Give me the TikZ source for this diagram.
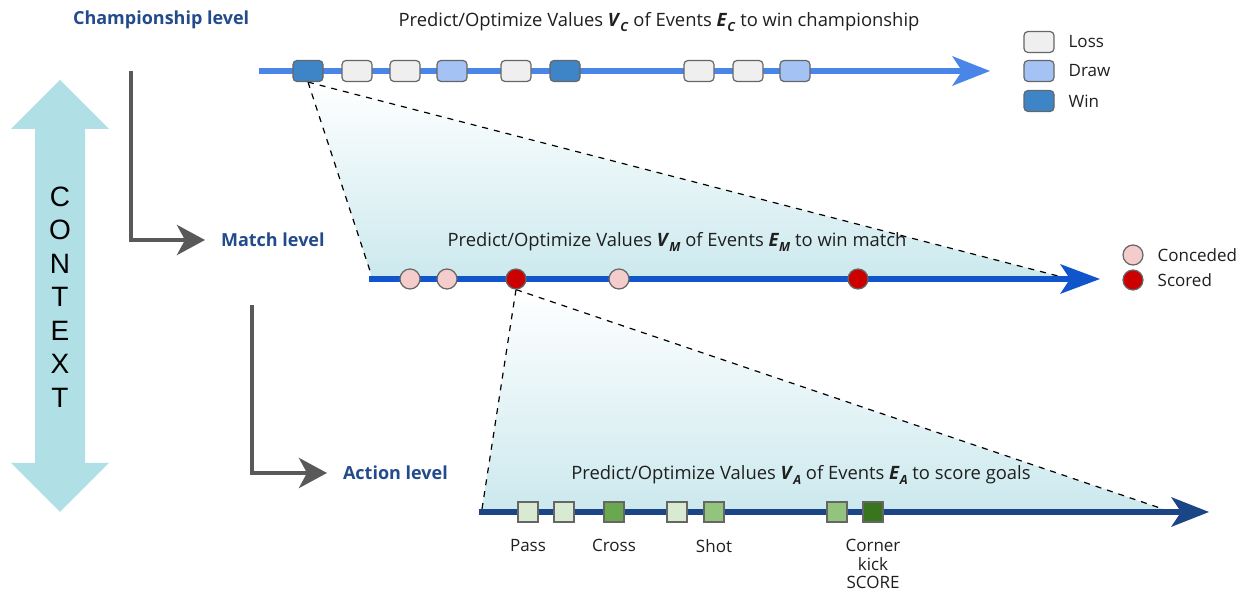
\documentclass[tikz,border=0pt]{standalone}
\usepackage{fontspec}
\setmainfont{Open Sans}
\newfontfamily\ctxfont{Liberation Sans}
\usetikzlibrary{arrows.meta,positioning,backgrounds}

\definecolor{ctxcyan}{RGB}{176,224,230}
\definecolor{lvlblue}{RGB}{35,75,140}
\definecolor{champblue}{RGB}{74,134,232}
\definecolor{matchblue}{RGB}{17,85,204}
\definecolor{actblue}{RGB}{28,69,135}
\definecolor{boxgray}{RGB}{102,102,102}
\definecolor{lossgray}{RGB}{239,239,239}
\definecolor{drawblue}{RGB}{164,194,244}
\definecolor{winblue}{RGB}{61,133,198}
\definecolor{concpink}{RGB}{244,204,204}
\definecolor{scorered}{RGB}{204,0,0}
\definecolor{greenA}{RGB}{217,234,211}
\definecolor{greenB}{RGB}{106,168,79}
\definecolor{greenC}{RGB}{147,196,125}
\definecolor{greenD}{RGB}{56,118,29}
\definecolor{arrowgray}{RGB}{89,89,89}
\definecolor{trifill}{RGB}{204,233,238}

\newcommand\vsub[2]{\textbf{\textit{#1}}\raisebox{-0.5ex}{\fontsize{6.3}{6.3}\selectfont\textbf{\textit{#2}}}}

\begin{document}
\begin{tikzpicture}[x=0.5pt,y=-0.5pt,
    every node/.style={font=\fontsize{8.5}{9.25}\selectfont, text=black!88},
    lvl/.style={font=\fontsize{9}{10}\selectfont\bfseries, text=lvlblue, anchor=west},
    caption/.style={font=\fontsize{9.2}{10}\selectfont},
    lvlarrow/.style={draw=arrowgray, line width=2.2pt, shorten >=4.5pt,
        -{Stealth[length=14pt,width=15pt,inset=4pt]}},
    champbox/.style={draw=boxgray, line width=0.6pt, rounded corners=2pt,
        minimum width=15pt, minimum height=10.5pt, inner sep=0pt},
    lossbox/.style={champbox, fill=lossgray},
    drawbox/.style={champbox, fill=drawblue},
    winbox/.style={champbox, fill=winblue},
    goal/.style={circle, draw=boxgray, line width=0.6pt, minimum size=10pt, inner sep=0pt},
    concnode/.style={goal, fill=concpink},
    scorenode/.style={goal, fill=scorered},
    actsq/.style={draw=boxgray, line width=0.6pt, minimum size=10pt, inner sep=0pt},
    legtext/.style={right=3.5pt of #1},
    tri/.style={dashed, line width=0.6pt, black},
    trishade/.style={top color=white, bottom color=trifill}]
\useasboundingbox (0,0) rectangle (1238,592);

%%%%%%%%%%%%%%%%%%%%%% context arrow
\fill[ctxcyan] (60,80) -- (109,129) -- (85,129) -- (85,463) -- (109,463) -- (60,512)
    -- (11,463) -- (35,463) -- (35,129) -- (11,129) -- cycle;
\node[font=\ctxfont\fontsize{14}{16.75}\selectfont, align=center, text=black] (ctx) at (60,297)
    {C\\O\\N\\T\\E\\X\\T};

%%%%%%%%%%%%%%%%%%%%%% levels
\node[lvl] (champlbl) at (66,20) {Championship level};
\node[lvl] (matchlbl) at (214,240) {Match level};
\node[lvl] (actlbl) at (336,473) {Action level};
\coordinate (g1) at (131,71);
\coordinate (g2) at (252,305);
\draw[lvlarrow] (g1) |- (matchlbl.west);
\draw[lvlarrow] (g2) |- (actlbl.west);

%%%%%%%%%%%%%%%%%%%%%% championship
\node[caption] (capc) at (659,22) {Predict/Optimize Values \vsub{V}{C} of Events \vsub{E}{C} to win championship};
\coordinate (cs) at (259,71);
\coordinate (ce) at (990,71);
\draw[line width=3pt, champblue, -{Stealth[length=19pt,width=15pt,inset=5pt,line width=0pt]}] (cs) -- (ce);
\foreach \i/\x/\k in {1/308/winbox,2/357/lossbox,3/405/lossbox,4/452/drawbox,5/516/lossbox,
    6/565/winbox,7/699/lossbox,8/748/lossbox,9/795/drawbox}
{
    \node[\k] (c\i) at (\x,71) {};
}
\node[lossbox] (lgloss) at (1039,42) {};
\node[drawbox] (lgdraw) at (1039,71) {};
\node[winbox] (lgwin) at (1039,101) {};
\node[legtext=lgloss] (tloss) {Loss};
\node[legtext=lgdraw] (tdraw) {Draw};
\node[legtext=lgwin] (twin) {Win};

%%%%%%%%%%%%%%%%%%%%%% match
\node[caption] (capm) at (677,242) {Predict/Optimize Values \vsub{V}{M} of Events \vsub{E}{M} to win match};
\coordinate (ms) at (369,279);
\coordinate (me) at (1100,279);
\coordinate (t1l) at (372,277);
\coordinate (t1r) at (1058,276);
\begin{scope}[on background layer]
    \shade[trishade] (c1.south) -- (t1l) -- (t1r) -- cycle;
    \draw[tri] (c1.south) -- (t1l);
    \draw[tri] (c1.south) -- (t1r);
\end{scope}
\draw[line width=2.8pt, matchblue, -{Stealth[length=20pt,width=15pt,inset=5pt,line width=0pt]}] (ms) -- (me);
\foreach \i/\x/\k in {1/410/concnode,2/447/concnode,3/516/scorenode,4/619/concnode,5/858/scorenode}
{
    \node[\k] (m\i) at (\x,279) {};
}
\node[concnode] (lgconc) at (1133,255) {};
\node[scorenode] (lgscore) at (1133,280) {};
\node[legtext=lgconc] (tconc) {Conceded};
\node[legtext=lgscore] (tscore) {Scored};

%%%%%%%%%%%%%%%%%%%%%% action
\node[caption] (capa) at (801,475) {Predict/Optimize Values \vsub{V}{A} of Events \vsub{E}{A} to score goals};
\coordinate (as) at (479,512);
\coordinate (ae) at (1209,512);
\coordinate (t2l) at (482,509);
\coordinate (t2r) at (1163,509);
\begin{scope}[on background layer]
    \shade[trishade] (m3.south) -- (t2l) -- (t2r) -- cycle;
    \draw[tri] (m3.south) -- (t2l);
    \draw[tri] (m3.south) -- (t2r);
\end{scope}
\draw[line width=3pt, actblue, -{Stealth[length=19pt,width=15pt,inset=5pt,line width=0pt]}] (as) -- (ae);
\foreach \i/\x/\c in {1/528/greenA,2/564/greenA,3/614/greenB,4/677/greenA,5/714/greenC,6/837/greenC,7/873/greenD}
{
    \node[actsq, fill=\c] (a\i) at (\x,512) {};
}
\node[below=5pt of a1] (lpass) {Pass};
\node[below=5pt of a3] (lcross) {Cross};
\node[below=5pt of a5] (lshot) {Shot};
\node[below=5pt of a7, align=center] (lcorner) {Corner\\kick\\SCORE};
\end{tikzpicture}
\end{document}
